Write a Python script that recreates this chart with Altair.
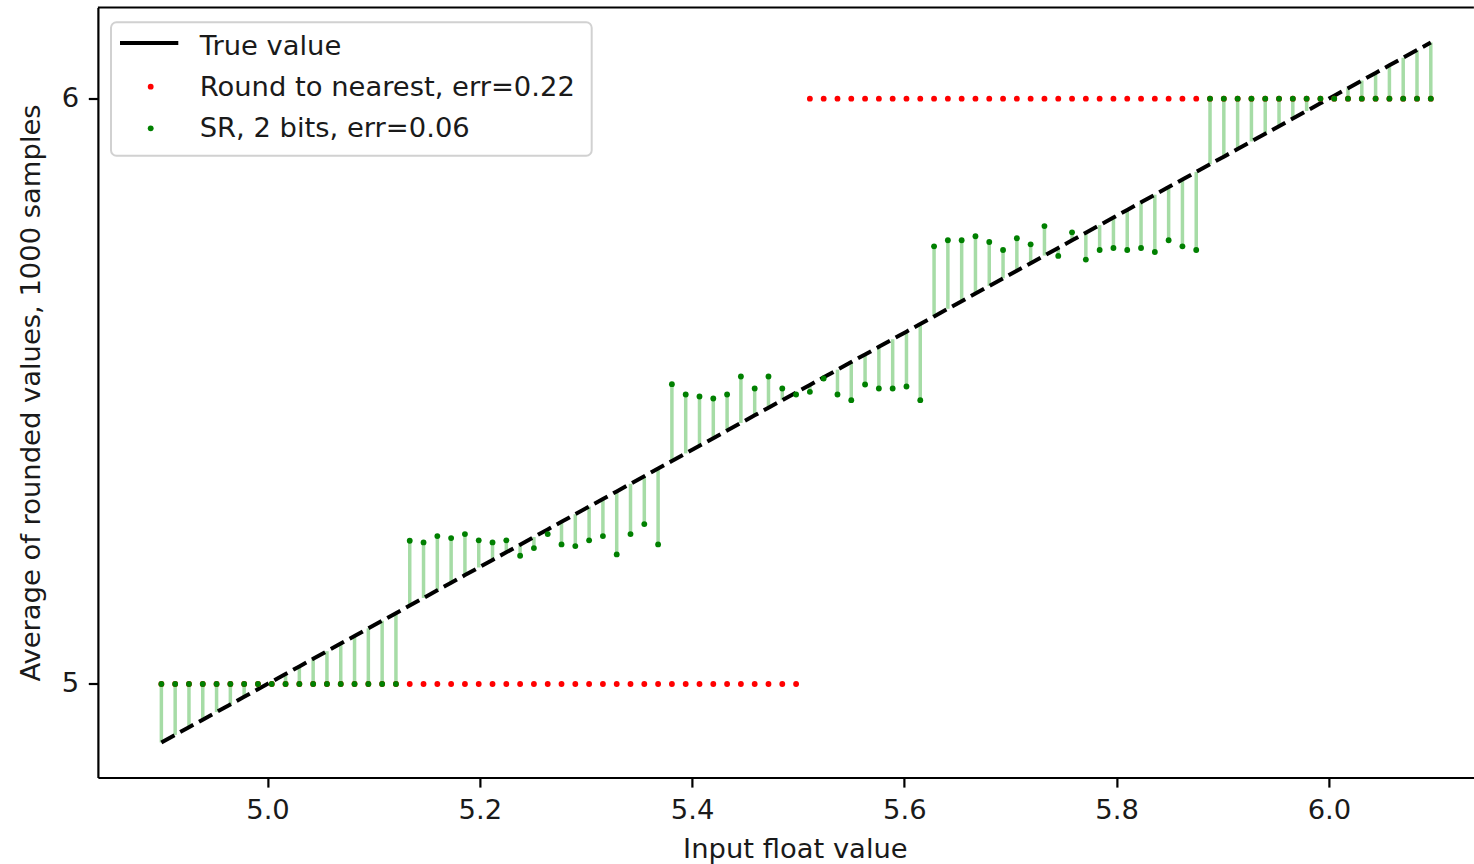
import altair as alt
import pandas as pd

# ---------------- data ----------------
X_VALUES = [
    4.900, 4.913, 4.926, 4.939, 4.952, 4.965, 4.978, 4.991, 5.004, 5.017,
    5.030, 5.043, 5.056, 5.069, 5.082, 5.095, 5.108, 5.121, 5.134, 5.147,
    5.160, 5.173, 5.186, 5.199, 5.212, 5.225, 5.238, 5.251, 5.264, 5.277,
    5.290, 5.303, 5.316, 5.329, 5.342, 5.355, 5.368, 5.381, 5.394, 5.407,
    5.420, 5.433, 5.446, 5.459, 5.472, 5.485, 5.498, 5.511, 5.524, 5.537,
    5.550, 5.563, 5.576, 5.589, 5.602, 5.615, 5.628, 5.641, 5.654, 5.667,
    5.680, 5.693, 5.706, 5.719, 5.732, 5.745, 5.758, 5.771, 5.784, 5.797,
    5.810, 5.823, 5.836, 5.849, 5.862, 5.875, 5.888, 5.901, 5.914, 5.927,
    5.940, 5.953, 5.966, 5.979, 5.992, 6.005, 6.018, 6.031, 6.044, 6.057,
    6.070, 6.083, 6.096,
]
# the true value is the input value itself
TRUE_VALUES = list(X_VALUES)

NEAREST_VALUES = [5.0] * 47 + [6.0] * 46

SR_BAND_525 = [5.2447, 5.2419, 5.2527, 5.2493, 5.2561, 5.2454, 5.2419, 5.2454,
               5.2191, 5.2322, 5.2561, 5.2385, 5.2356, 5.2454, 5.2527, 5.2214,
               5.2561, 5.2732, 5.2385]
SR_BAND_550 = [5.5122, 5.4946, 5.4912, 5.4878, 5.4946, 5.5254, 5.5049, 5.5254,
               5.5049, 5.4946, 5.4991, 5.5219, 5.4946, 5.4849, 5.5117, 5.5049,
               5.5049, 5.5083, 5.4849]
SR_BAND_575 = [5.7478, 5.7581, 5.7581, 5.7649, 5.7552, 5.7415, 5.7615, 5.7512,
               5.7824, 5.7313, 5.7717, 5.7251, 5.7415, 5.7449, 5.7415, 5.7449,
               5.7381, 5.7581, 5.7478, 5.7415]
SR_VALUES = [5.0] * 18 + SR_BAND_525 + SR_BAND_550 + SR_BAND_575 + [6.0] * 17

X_TICKS = [5.0, 5.2, 5.4, 5.6, 5.8, 6.0]
Y_TICKS = [5, 6]
LEGEND_LABELS = ["True value", "Round to nearest, err=0.22", "SR, 2 bits, err=0.06"]
X_TITLE = "Input float value"
Y_TITLE = "Average of rounded values, 1000 samples"

# ---------------- layout ----------------
W, H = 1376, 770
FONT = "DejaVu Sans"
FS = 27.4

df = pd.DataFrame({"x": X_VALUES, "true": TRUE_VALUES,
                   "nearest": NEAREST_VALUES, "sr": SR_VALUES})

xscale = alt.Scale(domain=[4.8402, 6.1366], nice=False, zero=False)
yscale = alt.Scale(domain=[4.8402, 6.1558], nice=False, zero=False)
xaxis = alt.Axis(values=X_TICKS, format=".1f", title=X_TITLE, titlePadding=11,
                 titleX=697)
yaxis = alt.Axis(values=Y_TICKS, format="d", title=Y_TITLE, titlePadding=15.5)

def X():
    return alt.X("x:Q", scale=xscale, axis=xaxis)

def Y(field):
    return alt.Y(f"{field}:Q", scale=yscale, axis=yaxis)

base = alt.Chart(df)

vlines = base.mark_rule(color="#a6dca6", strokeWidth=3.5).encode(
    x=X(), y=Y("true"), y2="sr:Q")
true_line = base.mark_line(color="black", strokeWidth=4, strokeDash=[15, 6.5]).encode(
    x=X(), y=Y("true"))
red_pts = base.mark_point(filled=True, shape="circle", size=34, color="#ff0000",
                          opacity=1).encode(x=X(), y=Y("nearest"))
green_pts = base.mark_point(filled=True, shape="circle", size=34, color="#008000",
                            opacity=1).encode(x=X(), y=Y("sr"))

one = pd.DataFrame({"k": [0]})

top_spine = alt.Chart(one).mark_rule(color="black", strokeWidth=2.2).encode(
    x=alt.value(0), x2=alt.value(W), y=alt.value(0))

legend_box = alt.Chart(one).mark_rect(
    fill="white", fillOpacity=0.8, stroke="#cccccc", strokeOpacity=0.9,
    strokeWidth=2, cornerRadius=5.5).encode(
    x=alt.value(13.1), x2=alt.value(493.8), y=alt.value(14.8), y2=alt.value(148.2))

legend_line = alt.Chart(one).mark_rule(color="black", strokeWidth=4).encode(
    x=alt.value(22.1), x2=alt.value(80.4), y=alt.value(35.5))
legend_red = alt.Chart(one).mark_point(filled=True, shape="circle", size=34,
                                       color="#ff0000", opacity=1).encode(
    x=alt.value(52.8), y=alt.value(79.2))
legend_green = alt.Chart(one).mark_point(filled=True, shape="circle", size=34,
                                         color="#008000", opacity=1).encode(
    x=alt.value(52.8), y=alt.value(120.8))

legend_texts = []
for label, yy in zip(LEGEND_LABELS, [47.3, 88.2, 129.2]):
    legend_texts.append(
        alt.Chart(pd.DataFrame({"t": [label]})).mark_text(
            align="left", baseline="alphabetic", font=FONT, fontSize=FS,
            color="#1a1a1a").encode(
            x=alt.value(101.8), y=alt.value(yy), text="t:N"))

chart = alt.layer(
    vlines, true_line, red_pts, green_pts, top_spine,
    legend_box, legend_line, legend_red, legend_green, *legend_texts
).properties(
    width=W, height=H,
    autosize=alt.AutoSizeParams(type="none"),
    padding={"left": 97.9, "top": 7.5, "right": 0, "bottom": 86.5},
    background="white",
).configure_view(stroke=None).configure_axis(
    grid=False,
    domainColor="black", domainWidth=2.2,
    tickColor="black", tickWidth=2.2, tickSize=9.6,
    labelFont=FONT, labelFontSize=FS, labelColor="#1a1a1a", labelPadding=9.6,
    titleFont=FONT, titleFontSize=FS, titleFontWeight="normal", titleColor="#1a1a1a",
)

chart.save("out.html", embed_options={"renderer": "svg", "actions": False})
